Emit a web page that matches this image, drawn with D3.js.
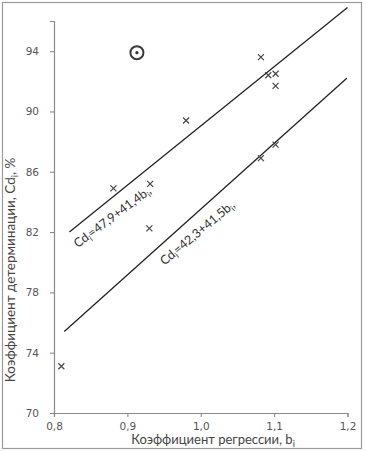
<!DOCTYPE html>
<html><head><meta charset="utf-8">
<script src="https://cdn.jsdelivr.net/npm/d3@7"></script>
<style>body{margin:0;background:#fff}svg{display:block}</style>
</head><body>
<script>
// ---- data ----
const xTicks = [0.8, 0.9, 1.0, 1.1, 1.2];
const yTicks = [70, 74, 78, 82, 86, 90, 94];
const pointsB  = [0.881, 0.931, 0.930, 0.980, 1.082, 1.092, 1.102, 1.102, 1.102, 1.082, 0.810];
const pointsCd = [84.9, 85.2, 82.25, 89.4, 93.6, 92.4, 92.5, 91.7, 87.8, 86.9, 73.1];
const outlierB = [0.913];
const outlierCd = [93.9];
const lineNames = ["47,9+41,4b", "42,3+41,5b"];
const lineStartB  = [0.821, 0.814];
const lineStartCd = [82.0, 75.4];
const lineEndB    = [1.200, 1.199];
const lineEndCd   = [96.9, 92.2];

const W = 366, H = 451;
const svg = d3.select("body").append("svg").attr("width", W).attr("height", H);
svg.append("rect").attr("width", W).attr("height", H).attr("fill", "#fff");
svg.append("rect").attr("x", 2.5).attr("y", 2.5).attr("width", 359).attr("height", 446)
  .attr("fill", "none").attr("stroke", "#9a9a9a").attr("stroke-width", 1.2);

const x = d3.scaleLinear().domain([0.8, 1.2]).range([54, 347.5]);
const y = d3.scaleLinear().domain([70, 96]).range([413, 21]);
const fmt = d => d3.format(".1f")(d).replace(".", ",");
const tickFont = "DejaVu Sans, sans-serif";
const txtFont = "Lato, 'Open Sans', sans-serif";

// axes
const gx = svg.append("g").attr("transform", `translate(0,${y(70)})`)
  .call(d3.axisBottom(x).tickValues(xTicks).tickFormat(fmt).tickSize(4).tickPadding(6));
const gy = svg.append("g").attr("transform", `translate(${x(0.8)},0)`)
  .call(d3.axisLeft(y).tickValues(yTicks).tickSize(4).tickPadding(11));
[gx, gy].forEach(g => {
  g.select(".domain").attr("stroke", "#8a8a8a").attr("stroke-width", 1.2);
  g.selectAll(".tick line").attr("stroke", "#8a8a8a").attr("stroke-width", 1.1);
  g.selectAll(".tick text").attr("fill", "#555").attr("font-size", 10.5).attr("font-family", tickFont);
});

// axis titles
const xt = svg.append("text").attr("x", 213).attr("y", 444).attr("text-anchor", "middle")
  .attr("font-family", txtFont).attr("font-size", 13).attr("fill", "#444");
xt.append("tspan").text("Коэффициент регрессии, b");
xt.append("tspan").attr("font-size", 9).attr("dy", 3).text("i");

const yt = svg.append("text").attr("transform", "translate(15,270) rotate(-90)").attr("text-anchor", "middle")
  .attr("font-family", txtFont).attr("font-size", 13.5).attr("fill", "#444");
yt.append("tspan").text("Коэффициент детерминации, Cd");
yt.append("tspan").attr("font-size", 9).attr("dy", 3).text("i");
yt.append("tspan").attr("dy", -3).text(", %");

// regression lines
const lines = lineNames.map((n, i) => ({n, b0: lineStartB[i], c0: lineStartCd[i], b1: lineEndB[i], c1: lineEndCd[i]}));
svg.selectAll("line.fit").data(lines).join("line").attr("class", "fit")
  .attr("x1", d => x(d.b0)).attr("y1", d => y(d.c0))
  .attr("x2", d => x(d.b1)).attr("y2", d => y(d.c1))
  .attr("stroke", "#222").attr("stroke-width", 1.3);

// line labels
const labelAtB = [0.867, 0.982];
lines.forEach((d, i) => {
  const b = labelAtB[i];
  const t = (b - d.b0) / (d.b1 - d.b0);
  const px = x(d.b0) + t * (x(d.b1) - x(d.b0));
  const py = y(d.c0) + t * (y(d.c1) - y(d.c0));
  const ang = Math.atan2(y(d.c1) - y(d.c0), x(d.b1) - x(d.b0)) * 180 / Math.PI;
  const g = svg.append("g").attr("transform", `translate(${px},${py}) rotate(${ang + 2})`);
  const tx = g.append("text").attr("x", 0).attr("y", 19.5).attr("text-anchor", "middle")
    .attr("font-family", txtFont).attr("font-size", 12.5).attr("fill", "#333");
  tx.append("tspan").text("Cd");
  tx.append("tspan").attr("font-size", 8.5).attr("dy", 3).text("i");
  tx.append("tspan").attr("dy", -3).text("=" + d.n);
  tx.append("tspan").attr("font-size", 8.5).attr("dy", 3).text("i");
  tx.append("tspan").attr("dy", -3).text(",");
});

// cross markers
const pts = pointsB.map((b, i) => ({b, c: pointsCd[i]}));
const s = 3;
svg.selectAll("path.pt").data(pts).join("path").attr("class", "pt")
  .attr("d", d => `M${x(d.b)-s},${y(d.c)-s}L${x(d.b)+s},${y(d.c)+s}M${x(d.b)-s},${y(d.c)+s}L${x(d.b)+s},${y(d.c)-s}`)
  .attr("stroke", "#444").attr("stroke-width", 1.2).attr("fill", "none");

// circled outlier
const outs = outlierB.map((b, i) => ({b, c: outlierCd[i]}));
svg.selectAll("circle.out").data(outs).join("circle").attr("class", "out")
  .attr("cx", d => x(d.b)).attr("cy", d => y(d.c)).attr("r", 6.5)
  .attr("fill", "none").attr("stroke", "#3a3a3a").attr("stroke-width", 2);
svg.selectAll("circle.outdot").data(outs).join("circle").attr("class", "outdot")
  .attr("cx", d => x(d.b)).attr("cy", d => y(d.c)).attr("r", 1.6).attr("fill", "#333");
</script>
</body></html>
